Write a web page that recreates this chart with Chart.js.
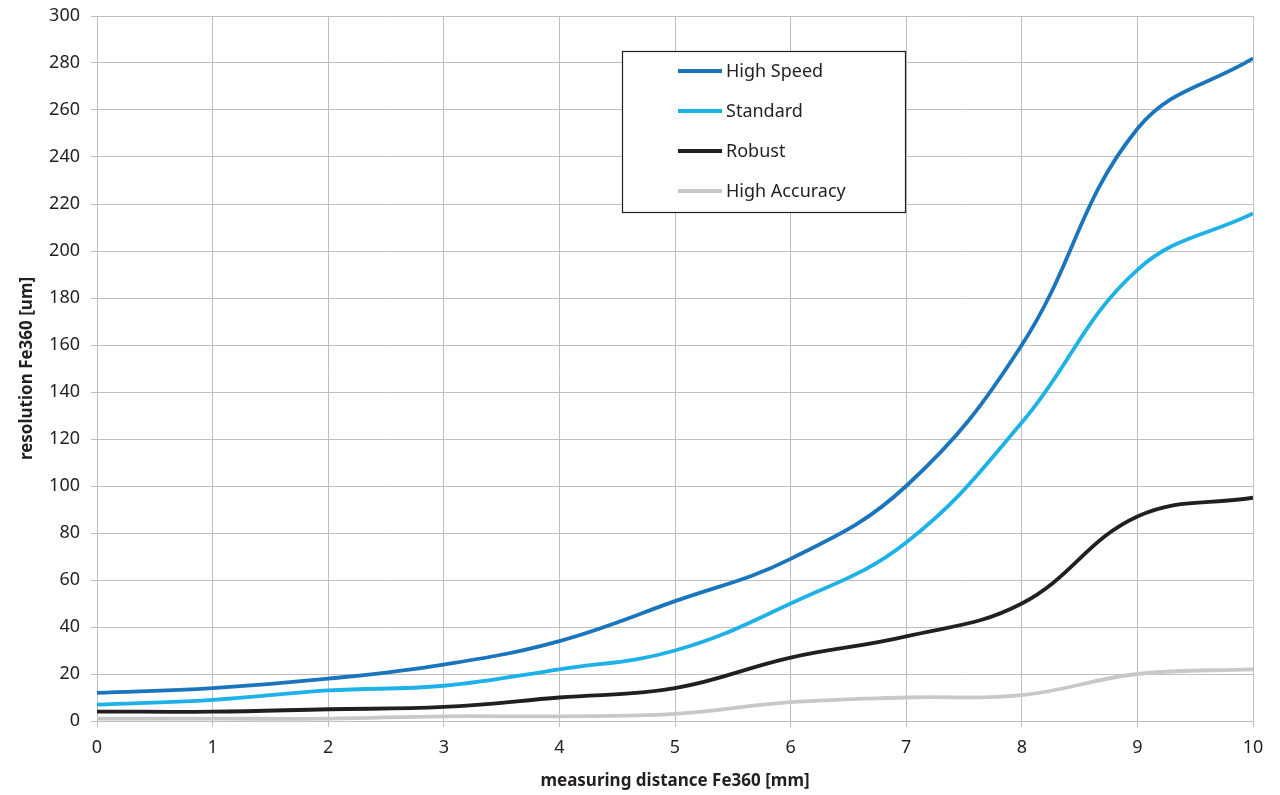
<!DOCTYPE html>
<html>
<head>
<meta charset="utf-8">
<script src="https://cdn.jsdelivr.net/npm/chart.js@4"></script>
<style>
  html, body { margin: 0; padding: 0; background: #fff; }
  #wrap { width: 1280px; height: 795px; }
</style>
</head>
<body>
<div id="wrap"><canvas id="chart"></canvas></div>
<script>
// values, one per mm step
var distance = [0, 1, 2, 3, 4, 5, 6, 7, 8, 9, 10];
var highSpeed = [12, 14, 18, 24, 34, 51, 69, 100, 160, 252, 282];
var standard = [7, 9, 13, 15, 22, 30, 50, 76, 127, 192, 216];
var robust = [4, 4, 5, 6, 10, 14, 27, 36, 50, 87, 95];
var highAccuracy = [1, 1, 1, 2, 2, 3, 8, 10, 11, 20, 22];

var seriesNames = ['High Speed', 'Standard', 'Robust', 'High Accuracy'];
var seriesColors = ['#1b75bc', '#1eb1e7', '#231f20', '#c8c8c8'];

function toPoints(arr) {
  return arr.map(function(v, i) { return {x: distance[i], y: v}; });
}

const font = '"Noto Sans", sans-serif';

// legend box inside the plot, Excel style
const boxLegend = {
  id: 'boxLegend',
  afterDraw(chart) {
    const ctx = chart.ctx;
    const x0 = 622, y0 = 51, w = 283, h = 161;
    ctx.save();
    ctx.fillStyle = '#fff';
    ctx.fillRect(x0, y0, w, h);
    ctx.strokeStyle = '#231f20';
    ctx.lineWidth = 1.2;
    ctx.strokeRect(x0 + 0.5, y0 + 0.5, w, h);
    ctx.font = '18px ' + font;
    ctx.textBaseline = 'middle';
    // datasets are stored bottom-first, legend lists them top-first
    const items = chart.data.datasets.slice().reverse();
    items.forEach(function(ds, i) {
      const y = 71 + i * 40;
      ctx.strokeStyle = ds.borderColor;
      ctx.lineWidth = 3.8;
      ctx.beginPath();
      ctx.moveTo(678, y);
      ctx.lineTo(722, y);
      ctx.stroke();
      ctx.fillStyle = '#231f20';
      ctx.fillText(ds.label, 726, y + 1);
    });
    ctx.restore();
  }
};

new Chart(document.getElementById('chart').getContext('2d'), {
  type: 'line',
  data: {
    datasets: [
      {label: seriesNames[0], data: toPoints(highSpeed), borderColor: seriesColors[0]},
      {label: seriesNames[1], data: toPoints(standard), borderColor: seriesColors[1]},
      {label: seriesNames[2], data: toPoints(robust), borderColor: seriesColors[2]},
      {label: seriesNames[3], data: toPoints(highAccuracy), borderColor: seriesColors[3]}
    ].reverse()
  },
  options: {
    responsive: true,
    maintainAspectRatio: false,
    animation: false,
    layout: { padding: { top: 16, right: 27, left: 0, bottom: 0 } },
    elements: {
      line: { borderWidth: 3.8, tension: 0.4, fill: false },
      point: { radius: 0 }
    },
    plugins: {
      legend: { display: false },
      tooltip: { enabled: false }
    },
    scales: {
      x: {
        type: 'linear',
        min: 0,
        max: 10,
        ticks: { stepSize: 1, color: '#231f20', font: { family: font, size: 18 }, padding: 10 },
        grid: { color: '#bfbfbf', tickLength: 6, lineWidth: 1 },
        border: { color: '#bfbfbf' },
        title: {
          display: true,
          text: 'measuring distance Fe360 [mm]',
          color: '#231f20',
          font: { family: font, size: 17, weight: 'bold' },
          padding: { top: 2 }
        },
        afterFit(s) { s.height = 74; s.paddingLeft = 0; s.paddingRight = 0; }
      },
      y: {
        min: 0,
        max: 300,
        ticks: { stepSize: 20, color: '#231f20', font: { family: font, size: 18 }, padding: 11 },
        grid: { color: '#bfbfbf', tickLength: 6, lineWidth: 1 },
        border: { color: '#bfbfbf' },
        title: {
          display: true,
          text: 'resolution Fe360 [um]',
          color: '#231f20',
          font: { family: font, size: 17, weight: 'bold' },
          padding: { top: 17, bottom: 4 }
        },
        afterFit(s) { s.width = 97; s.paddingTop = 0; s.paddingBottom = 0; }
      }
    }
  },
  plugins: [boxLegend]
});
</script>
</body>
</html>
